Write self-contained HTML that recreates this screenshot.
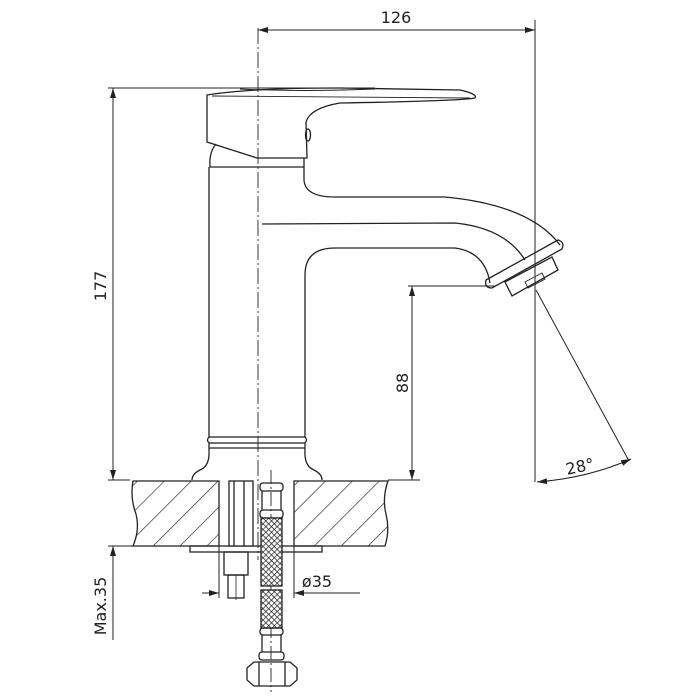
<!DOCTYPE html>
<html><head><meta charset="utf-8"><style>body{margin:0;background:#fff}svg{display:block}</style></head><body>
<svg width="700" height="700" viewBox="0 0 700 700" xmlns="http://www.w3.org/2000/svg" fill="none" stroke="#222" stroke-width="1.3" font-family="DejaVu Sans, Liberation Sans, sans-serif">
<defs>
<marker id="a" viewBox="0 0 10 6" refX="10" refY="3" markerWidth="10" markerHeight="6" orient="auto-start-reverse"><path d="M0,0 L10,3 L0,6" fill="#222" stroke="none"/></marker>
<pattern id="h" width="19" height="19" patternUnits="userSpaceOnUse" patternTransform="rotate(45)"><line x1="0" y1="0" x2="0" y2="19" stroke="#222" stroke-width="1.3"/></pattern>
<pattern id="m" width="4" height="4" patternUnits="userSpaceOnUse" patternTransform="rotate(45)"><rect width="4" height="4" fill="#fff" stroke="none"/><path d="M0,0H4M0,0V4" stroke="#222" stroke-width="1.4"/></pattern>
</defs>
<line x1="258" y1="28" x2="258" y2="560" stroke-dasharray="16,3,2,3" stroke-width="0.9"/>
<line x1="271" y1="470" x2="271" y2="692" stroke-dasharray="14,3,2,3" stroke-width="0.9"/>
<line x1="535" y1="20" x2="535" y2="482" stroke-width="1"/>
<line x1="258" y1="30" x2="535" y2="30" marker-start="url(#a)" marker-end="url(#a)" stroke-width="1"/>
<text x="396" y="23" font-size="16" fill="#222" stroke="none" text-anchor="middle">126</text>
<line x1="108" y1="88" x2="375" y2="88" stroke-width="1"/>
<line x1="108" y1="480" x2="130" y2="480" stroke-width="1"/>
<line x1="388" y1="480" x2="420" y2="480" stroke-width="1"/>
<line x1="113" y1="88" x2="113" y2="480" marker-start="url(#a)" marker-end="url(#a)" stroke-width="1"/>
<text transform="translate(106,286) rotate(-90)" font-size="16" fill="#222" stroke="none" text-anchor="middle">177</text>
<path d="M207,95 Q250,88 340,88 L460,90 Q478,94 475,98 Q460,101 340,103 Q310,108 306,122 L307,158 L257,158 L207,142 Z"/>
<path d="M240,89 Q300,92 375,89" stroke-width="0.9"/>
<path d="M212,96 L470,98" stroke-width="0.9"/>
<ellipse cx="308" cy="135" rx="2.5" ry="6"/>
<path d="M216,144 Q209,152 210,167 L304,167 L304,158"/>
<path d="M209,167 L209,437"/>
<path d="M304,167 L304,180 Q305,197 335,197 L445,197 Q530,205 560,245"/>
<path d="M262,224 L455,223 Q505,228 525,260"/>
<path d="M305,437 L305,275 Q305,248 335,248 L455,248 Q485,252 490,283"/>
<path d="M486,280 L558,240 Q565,242 562,249 L492,288 Q484,288 486,280 Z"/>
<path d="M505,282 L552,257 L558,270 L512,296 Z"/>
<path d="M525,282 L542,273 L545,279 L528,288 Z" stroke-width="0.9"/>
<path d="M209,437 Q206,440 209,443 L305,443 Q308,440 305,437 Z"/>
<line x1="209" y1="448" x2="305" y2="448"/>
<line x1="209" y1="443" x2="209" y2="450"/><line x1="305" y1="443" x2="305" y2="450"/>
<path d="M209,450 Q210,466 200,470 Q192,474 192,480"/>
<path d="M305,450 Q304,466 314,470 Q322,474 322,480"/>
<line x1="408" y1="286" x2="495" y2="286" stroke-width="1"/>
<line x1="412" y1="286" x2="412" y2="480" marker-start="url(#a)" marker-end="url(#a)" stroke-width="1"/>
<text transform="translate(408,383) rotate(-90)" font-size="16" fill="#222" stroke="none" text-anchor="middle">88</text>
<line x1="536" y1="290" x2="629" y2="461" stroke-width="1"/>
<path d="M537,482 Q588,478 631,459" marker-start="url(#a)" marker-end="url(#a)" stroke-width="1"/>
<text x="580" y="472" font-size="16" fill="#222" stroke="none" text-anchor="middle" transform="rotate(-12 580 467)">28°</text>
<path d="M133,481 L219,481 L219,546 L133,546 Q140,530 136,514 Q130,498 133,481 Z" fill="url(#h)"/>
<path d="M294,481 L388,481 Q382,498 386,514 Q390,530 385,546 L294,546 Z" fill="url(#h)"/>
<rect x="190" y="546" width="132" height="6"/>
<line x1="108" y1="546" x2="133" y2="546" stroke-width="1"/>
<line x1="113" y1="546" x2="113" y2="640" marker-start="url(#a)" stroke-width="1"/>
<text transform="translate(106,606) rotate(-90)" font-size="16" fill="#222" stroke="none" text-anchor="middle">Max.35</text>
<rect x="229" y="481" width="24" height="65" fill="#fff"/>
<line x1="234" y1="481" x2="234" y2="546"/><line x1="244" y1="481" x2="244" y2="546"/>
<rect x="224" y="552" width="24" height="23"/>
<rect x="228" y="575" width="16" height="23"/>
<line x1="236" y1="575" x2="236" y2="600" stroke-width="0.8"/>
<rect x="260" y="483" width="23" height="8" rx="3"/>
<line x1="262" y1="491" x2="262" y2="510"/><line x1="281" y1="491" x2="281" y2="510"/>
<rect x="260" y="510" width="23" height="8" rx="3"/>
<rect x="261" y="518" width="21" height="68" fill="url(#m)"/>
<rect x="261" y="590" width="21" height="38" fill="url(#m)"/>
<rect x="260" y="628" width="23" height="7" rx="3"/>
<line x1="262" y1="635" x2="262" y2="652"/><line x1="281" y1="635" x2="281" y2="652"/>
<rect x="259" y="652" width="25" height="8" rx="3"/>
<path d="M254,662 L290,662 L297,668 L297,680 L290,686 L254,686 L247,680 L247,668 Z"/>
<line x1="259" y1="662" x2="259" y2="686"/><line x1="285" y1="662" x2="285" y2="686"/>
<line x1="219" y1="546" x2="219" y2="598" stroke-width="1"/>
<line x1="294" y1="546" x2="294" y2="598" stroke-width="1"/>
<line x1="202" y1="593" x2="219" y2="593" marker-end="url(#a)" stroke-width="1"/>
<line x1="360" y1="593" x2="294" y2="593" marker-end="url(#a)" stroke-width="1"/>
<text x="317" y="587" font-size="16" fill="#222" stroke="none" text-anchor="middle">ø35</text>
</svg>
</body></html>
